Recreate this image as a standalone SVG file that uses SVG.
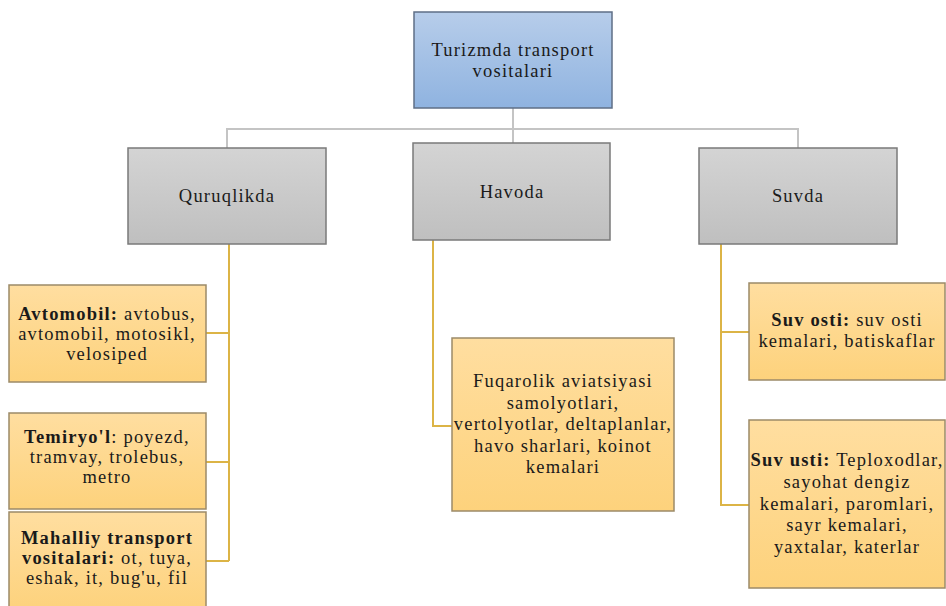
<svg xmlns="http://www.w3.org/2000/svg" width="946" height="606" viewBox="0 0 946 606">
<defs>
<linearGradient id="gBlue" x1="0" y1="0" x2="0" y2="1"><stop offset="0" stop-color="#b7cdea"/><stop offset="1" stop-color="#8fb3e0"/></linearGradient>
<linearGradient id="gGray" x1="0" y1="0" x2="0" y2="1"><stop offset="0" stop-color="#d4d4d4"/><stop offset="1" stop-color="#bfbfbf"/></linearGradient>
<linearGradient id="gYel" x1="0" y1="0" x2="0" y2="1"><stop offset="0" stop-color="#ffdea0"/><stop offset="1" stop-color="#fdd27c"/></linearGradient>
</defs>
<style>
text{font-family:"Liberation Serif","Times New Roman",serif;font-size:18.5px;fill:#1a1a1a;text-anchor:middle;letter-spacing:1.2px}
.b{font-weight:bold}
.blue{fill:url(#gBlue);stroke:#5f6f86;stroke-width:1.5}
.gray{fill:url(#gGray);stroke:#7a7a7a;stroke-width:1.5}
.yel{fill:url(#gYel);stroke:#9c8a68;stroke-width:1.5}
.cg{fill:none;stroke:#c4c4c4;stroke-width:2}
.cy{fill:none;stroke:#dcb446;stroke-width:2}
</style>
<g id="connectors">
<path class="cg" d="M513 108V129M227 148V129H798V148M513 129V143"/>
<path class="cy" d="M229 244V561M206 333H229M206 462H229M206 561H229"/>
<path class="cy" d="M433 240V426H452"/>
<path class="cy" d="M721 244V505H749M721 332H749"/>
</g>
<g id="root"><rect class="blue" x="414" y="12" width="198" height="96"/><text x="513" y="56">Turizmda transport</text><text x="513" y="77">vositalari</text></g>
<g id="quruqlikda"><rect class="gray" x="128" y="148" width="198" height="96"/><text x="227" y="202">Quruqlikda</text></g>
<g id="havoda"><rect class="gray" x="413" y="143" width="197" height="97"/><text x="512" y="198">Havoda</text></g>
<g id="suvda"><rect class="gray" x="699" y="148" width="198" height="96"/><text x="798" y="202">Suvda</text></g>
<g id="avtomobil"><rect class="yel" x="9" y="285" width="197" height="97"/><text x="107" y="320"><tspan class="b">Avtomobil:</tspan> avtobus,</text><text x="107" y="340">avtomobil, motosikl,</text><text x="107" y="360">velosiped</text></g>
<g id="temiryol"><rect class="yel" x="9" y="413" width="197" height="96"/><text x="107" y="443"><tspan class="b">Temiryo'l</tspan>: poyezd,</text><text x="107" y="463">tramvay, trolebus,</text><text x="107" y="483">metro</text></g>
<g id="mahalliy"><rect class="yel" x="9" y="512" width="197" height="100"/><text x="107" y="544" class="b">Mahalliy transport</text><text x="107" y="564"><tspan class="b">vositalari:</tspan> ot, tuya,</text><text x="107" y="584">eshak, it, bug'u, fil</text></g>
<g id="fuqarolik"><rect class="yel" x="452" y="338" width="222" height="173"/><text x="563" y="387">Fuqarolik aviatsiyasi</text><text x="563" y="408.5">samolyotlari,</text><text x="563" y="430">vertolyotlar, deltaplanlar,</text><text x="563" y="451.5">havo sharlari, koinot</text><text x="563" y="473">kemalari</text></g>
<g id="suvosti"><rect class="yel" x="749" y="283" width="196" height="97"/><text x="847" y="326"><tspan class="b">Suv osti:</tspan> suv osti</text><text x="847" y="347">kemalari, batiskaflar</text></g>
<g id="suvusti"><rect class="yel" x="749" y="420" width="196" height="168"/><text x="847" y="466"><tspan class="b">Suv usti:</tspan> Teploxodlar,</text><text x="847" y="488">sayohat dengiz</text><text x="847" y="509.5">kemalari, paromlari,</text><text x="847" y="531">sayr kemalari,</text><text x="847" y="552.5">yaxtalar, katerlar</text></g>
</svg>
